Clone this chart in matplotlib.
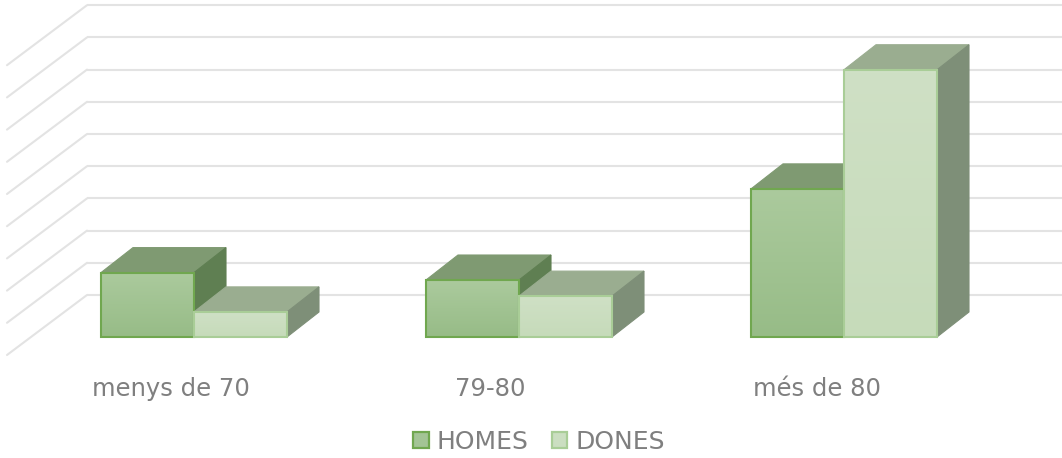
import numpy as np
import matplotlib
matplotlib.use("Agg")
import matplotlib.pyplot as plt
from matplotlib.colors import LinearSegmentedColormap
from matplotlib.patches import Polygon, Patch

OUT_FILE = "out.png"

categories = ["menys de 70", "79-80", "més de 80"]
homes = [2.0, 1.77, 4.6]
dones = [0.78, 1.27, 8.3]
gridlines = [0, 1, 2, 3, 4, 5, 6, 7, 8, 9]

# pixel scale of the reference
W, H = 1062, 458
PX_X = 325.0  # px per category
PX_Y = 32.2   # px per value unit
X0 = 194.0    # px of first category
Y0 = 337.0    # px of the zero line, front of bars

BAR_W = 93 / PX_X
DX = 32 / PX_X
DY = 25 / PX_Y
WALL_DY = 42 / PX_Y
GRID = "#e3e3e3"
TEXT = "#7f7f7f"


def draw_bar(ax, x, val, front_top, front_bot, top, side, edge, z):
    x1 = x + BAR_W
    ax.add_patch(Polygon([(x, val), (x1, val), (x1 + DX, val + DY), (x + DX, val + DY)],
                         fc=top, ec=top, lw=0.8, zorder=z))
    ax.add_patch(Polygon([(x1, 0), (x1 + DX, DY), (x1 + DX, val + DY), (x1, val)],
                         fc=side, ec=side, lw=0.8, zorder=z))
    # front face, vertical gradient
    grad = np.linspace(0, 1, 64).reshape(-1, 1)
    cmap = LinearSegmentedColormap.from_list("f", [front_top, front_bot])
    ax.imshow(grad, extent=(x, x1, 0, val), origin="upper", cmap=cmap, aspect="auto", zorder=z + 0.1)
    ax.add_patch(Polygon([(x, 0), (x1, 0), (x1, val), (x, val)], fc="none", ec=edge, lw=1.5, zorder=z + 0.2))


def main():
    fig = plt.figure(figsize=(W / 100, H / 100), dpi=100)
    ax = fig.add_axes([0, 0, 1, 1])

    # back wall lines and the diagonals on the side wall
    for g in gridlines:
        y = g + WALL_DY
        ax.plot([(87 - X0) / PX_X, (W - X0) / PX_X], [y, y],
                color=GRID, lw=1.5, zorder=1, solid_capstyle="butt")
        ax.plot([(87 - X0) / PX_X, (7 - X0) / PX_X], [y, y - 60 / PX_Y],
                color=GRID, lw=1.5, zorder=1, solid_capstyle="round")

    label_shift = [-0.07, -0.09, -0.083]
    for i in range(len(categories)):
        # left edge of the group is one bar width left of the tick
        draw_bar(ax, i - BAR_W, homes[i], "#abca9d", "#97bc87", "#7f9a72", "#5f7f52", "#70a74f", 2 + i)
        draw_bar(ax, i, dones[i], "#cfe0c5", "#c6dbba", "#9aad90", "#7e8f78", "#a9cd97", 2.5 + i)
        ax.text(i + label_shift[i], -52 / PX_Y, categories[i], ha="center", va="center",
                color=TEXT, fontsize=17.5)

    handles = [Patch(fc="#a3c495", ec="#70a74f", lw=1.6, label="HOMES"),
               Patch(fc="#cbdec1", ec="#a9cd97", lw=1.6, label="DONES")]
    ax.legend(handles=handles, ncol=2, loc="center", bbox_to_anchor=(539 / W, 1 - 442 / H), frameon=False,
              fontsize=18, labelcolor=TEXT, handlelength=0.62, handleheight=0.62,
              handletextpad=0.32, columnspacing=0.92, borderpad=0)

    ax.set_xlim(-X0 / PX_X, (W - X0) / PX_X)
    ax.set_ylim(-(H - Y0) / PX_Y, Y0 / PX_Y)
    ax.axis("off")
    fig.savefig(OUT_FILE, dpi=100)


if __name__ == "__main__":
    main()
